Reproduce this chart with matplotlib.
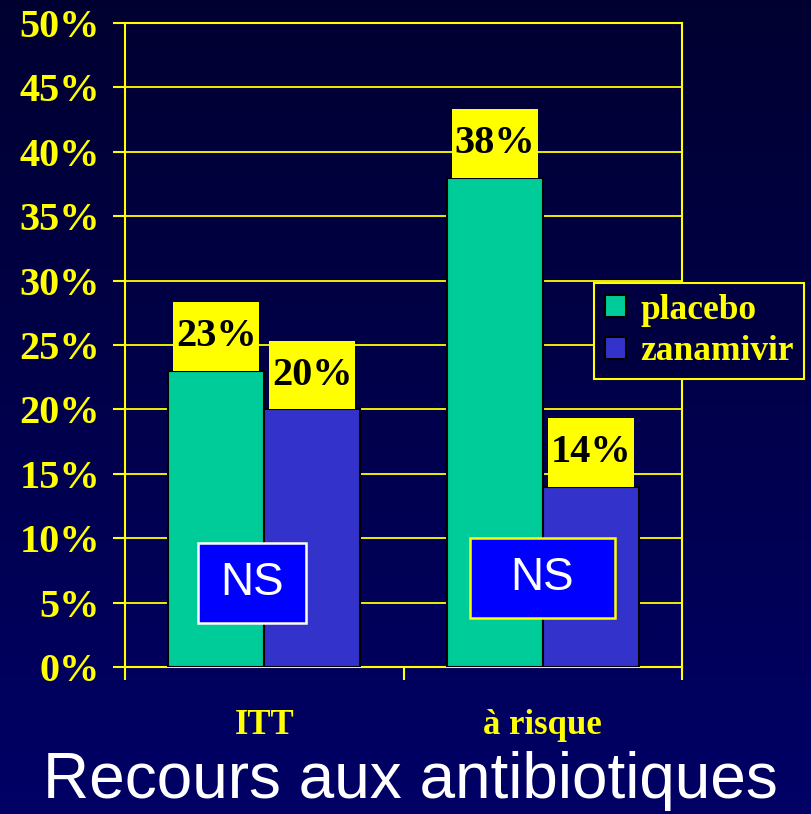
import numpy as np
import matplotlib.pyplot as plt

# data
groups = ['ITT', 'à risque']
placebo = [23, 38]
zanamivir = [20, 14]
series_names = ['placebo', 'zanamivir']
y_ticks = [0, 5, 10, 15, 20, 25, 30, 35, 40, 45, 50]
y_labels = ['0%', '5%', '10%', '15%', '20%', '25%', '30%', '35%', '40%', '45%', '50%']
title = 'Recours aux antibiotiques'
ns_text = 'NS'

YELLOW = '#FFFF00'
GREEN = '#00CC99'
BLUE = '#3333CC'
SERIF = 'Liberation Serif'
SANS = 'Liberation Sans'

fig = plt.figure(figsize=(8.11, 8.14), dpi=100)

# gradient background for the whole slide
bg = fig.add_axes([0, 0, 1, 1], zorder=-10)
grad = np.linspace(0, 1, 256).reshape(-1, 1)
top = np.array([0, 0, 0.19])
bottom = np.array([0, 0, 0.40])
img = top + (bottom - top) * grad[:, :, None]
bg.imshow(img, aspect='auto', extent=[0, 1, 0, 1])
bg.axis('off')

ax = fig.add_axes([125 / 811, 1 - 667 / 814, 557 / 811, 644 / 814])
ax.set_facecolor('none')

x = np.arange(len(groups))
w = 0.345
b1 = ax.bar(x - w / 2, placebo, w, color=GREEN, edgecolor='black', linewidth=1.5,
            label=series_names[0], zorder=3)
b2 = ax.bar(x + w / 2, zanamivir, w, color=BLUE, edgecolor='black', linewidth=1.5,
            label=series_names[1], zorder=3)

# yellow value boxes sitting on top of the bars
box_h = 5.3
box_w = 0.31
for xs, vals in [(x - w / 2, placebo), (x + w / 2, zanamivir)]:
    ax.bar(xs, [box_h] * len(vals), box_w, bottom=vals, color=YELLOW, zorder=4)
    for xi, v in zip(xs, vals):
        ax.text(xi, v + box_h / 2, f'{v}%', ha='center', va='center',
                fontsize=29, fontweight='bold', family=SERIF, color='black', zorder=5)

# NS boxes
ns_boxes = [(-0.238, 0.150, 3.4, 9.6, 'white'), (0.739, 1.259, 3.8, 10.0, YELLOW)]
for x0, x1, y0, y1, ec in ns_boxes:
    ax.add_patch(plt.Rectangle((x0, y0), x1 - x0, y1 - y0, facecolor='#0000FF',
                               edgecolor=ec, linewidth=1.8, zorder=6))
    ax.text((x0 + x1) / 2, (y0 + y1) / 2, ns_text, ha='center', va='center',
            fontsize=33, family=SANS, color='white', zorder=7)

ax.set_xlim(-0.5, 1.5)
ax.set_ylim(0, 50)
ax.set_yticks(y_ticks)
ax.set_yticklabels(y_labels)
ax.set_xticks([-0.5, 0.5, 1.5])
ax.set_xticklabels([])
ax.set_xticks(x, minor=True)
ax.set_xticklabels(groups, minor=True)

ax.yaxis.grid(True, color=YELLOW, linewidth=1.3, zorder=0)
ax.set_axisbelow(True)
for s in ax.spines.values():
    s.set_color(YELLOW)
    s.set_linewidth(1.5)

ax.tick_params(axis='y', colors=YELLOW, length=9, width=1.5, pad=9)
ax.tick_params(axis='x', which='major', colors=YELLOW, length=9, width=1.5)
ax.tick_params(axis='x', which='minor', length=0, pad=30, colors=YELLOW)
for lab in ax.get_yticklabels():
    lab.set_fontsize(29)
    lab.set_fontweight('bold')
    lab.set_family(SERIF)
for lab in ax.get_xticklabels(minor=True):
    lab.set_fontsize(25)
    lab.set_fontweight('bold')
    lab.set_family(SERIF)

leg = ax.legend(handles=[b1, b2], loc='upper left',
                bbox_to_anchor=(594 / 811, 1 - 283 / 814), bbox_transform=fig.transFigure,
                prop={'family': SERIF, 'weight': 'bold', 'size': 25.5},
                handlelength=0.6, handleheight=0.6, handletextpad=0.4,
                labelspacing=0.25, borderpad=0.3, fancybox=False, framealpha=1,
                facecolor='#000040', edgecolor=YELLOW, borderaxespad=0)
leg.get_frame().set_linewidth(1.5)
for t in leg.get_texts():
    t.set_color(YELLOW)

fig.text(410 / 811, 1 - 781 / 814, title, ha='center', va='center',
         fontsize=46, family=SANS, color='white')

fig.savefig('out.png', dpi=100)
